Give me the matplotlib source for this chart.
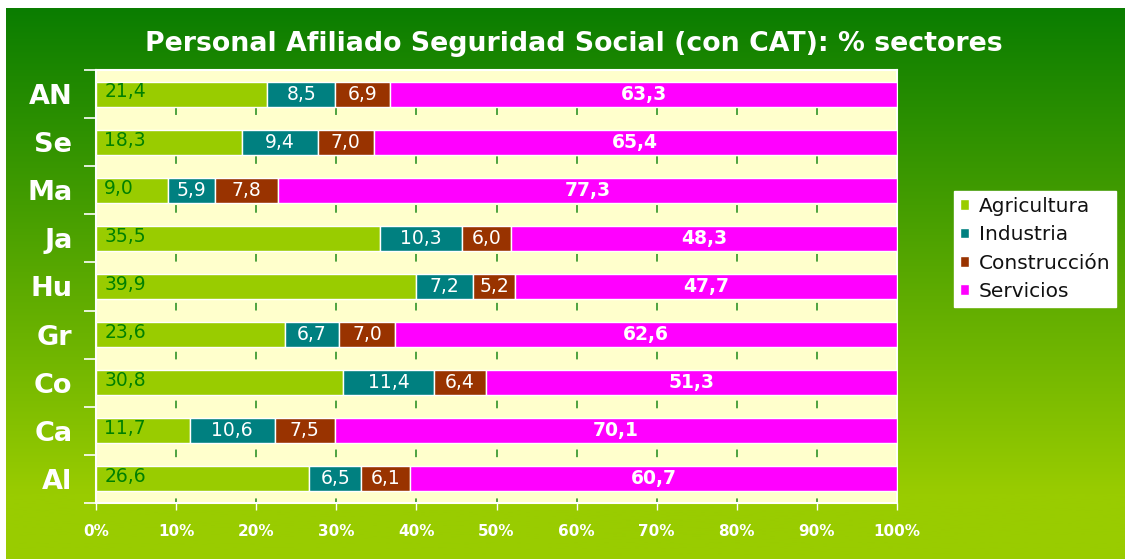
import numpy as np
import matplotlib
matplotlib.use("Agg")
import matplotlib.pyplot as plt

plt.rcParams["font.family"] = ["DejaVu Sans"]

# Datos: % de afiliados por sector (de arriba a abajo)
provincias = ["AN", "Se", "Ma", "Ja", "Hu", "Gr", "Co", "Ca", "Al"]
agricultura = [21.4, 18.3, 9.0, 35.5, 39.9, 23.6, 30.8, 11.7, 26.6]
industria = [8.5, 9.4, 5.9, 10.3, 7.2, 6.7, 11.4, 10.6, 6.5]
construccion = [6.9, 7.0, 7.8, 6.0, 5.2, 7.0, 6.4, 7.5, 6.1]
servicios = [63.3, 65.4, 77.3, 48.3, 47.7, 62.6, 51.3, 70.1, 60.7]

sectores = ["Agricultura", "Industria", "Construcción", "Servicios"]
colores = ["#99CC00", "#008080", "#993300", "#FF00FF"]
xticks_labels = ["0%", "10%", "20%", "30%", "40%", "50%", "60%", "70%", "80%", "90%", "100%"]

W, H = 1125, 559
fig = plt.figure(figsize=(W / 100, H / 100), dpi=100)
fig.patch.set_facecolor("white")

# Fondo degradado verde
bg = fig.add_axes([6 / W, 0, 1 - 6 / W, (H - 8) / H])
bg.set_axis_off()
top = np.array([10, 125, 0]) / 255
bottom = np.array([153, 204, 0]) / 255
t = np.clip(np.linspace(0, 1, 300) / 0.88, 0, 1)[:, None]
grad = top + (bottom - top) * t
bg.imshow(grad[:, None, :], aspect="auto", extent=[0, 1, 0, 1])

ax = fig.add_axes([96 / W, (H - 503) / H, 801 / W, 433 / H])
ax.set_facecolor("#FFFFCC")

data = np.array([agricultura, industria, construccion, servicios])
pct = data / data.sum(axis=0) * 100
y = np.arange(len(provincias))
left = np.zeros(len(provincias))
for k in range(4):
    ax.barh(y, pct[k], left=left, height=0.52, color=colores[k],
            edgecolor="white", linewidth=1, label=sectores[k], zorder=3)
    for i in range(len(provincias)):
        txt = f"{data[k][i]:.1f}".replace(".", ",")
        if k == 0:
            ax.annotate(txt, (0, y[i]), xytext=(6, 1.5), textcoords="offset points",
                        ha="left", va="center", color="#008000", fontsize=13.5, zorder=4)
        elif k == 3:
            ax.text(left[i] + pct[k][i] / 2, y[i], txt, ha="center", va="center",
                    color="white", fontsize=13.5, fontweight="bold", zorder=4)
        else:
            ax.text(left[i] + pct[k][i] / 2, y[i], txt, ha="center", va="center",
                    color="white", fontsize=13.5, zorder=4)
    left += pct[k]

ax.set_xlim(0, 100)
ax.set_ylim(len(provincias) - 0.5, -0.5)
ax.set_xticks(np.arange(0, 101, 10))
ax.set_xticklabels(xticks_labels, color="white", fontsize=11, fontweight="bold")
ax.tick_params(axis="x", colors="white", length=5, width=1, pad=10)
ax.set_yticks(y)
ax.set_yticklabels(provincias, color="white", fontsize=19.5, fontweight="bold")
ax.set_yticks(np.arange(-0.5, len(provincias), 1), minor=True)
ax.tick_params(axis="y", which="major", length=0, pad=17)
ax.tick_params(axis="y", which="minor", length=9, width=1.2, colors="white")
ax.grid(axis="x", color="#1F8A1A", linestyle=(2, (5, 11)), linewidth=1.1, zorder=1)
for sp in ax.spines.values():
    sp.set_color("white")
    sp.set_linewidth(1.5)

fig.text(574 / W, 1 - 44 / H, "Personal Afiliado Seguridad Social (con CAT): % sectores",
         ha="center", va="center", color="white", fontsize=19.3, fontweight="bold")

leg = fig.legend(loc="upper left", bbox_to_anchor=(954 / W, 1 - 191 / H),
                 frameon=True, fancybox=False, fontsize=14.5, handlelength=0.45,
                 handleheight=0.45, handletextpad=0.5, labelspacing=0.47,
                 borderpad=0.28, borderaxespad=0)
leg.get_frame().set_facecolor("white")
leg.get_frame().set_edgecolor("white")
leg.get_frame().set_alpha(1)
for tx in leg.get_texts():
    tx.set_color("#111111")

fig.savefig("out.png", dpi=100)
